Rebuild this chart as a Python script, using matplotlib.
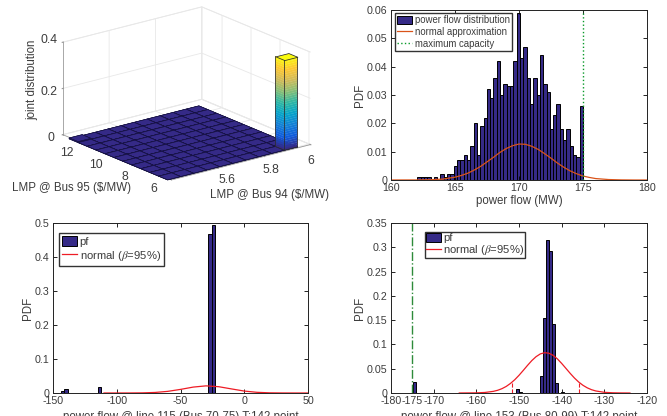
import numpy as np
import matplotlib
matplotlib.use('Agg')
from matplotlib import pyplot as plt
from matplotlib.colors import LinearSegmentedColormap
from matplotlib.lines import Line2D
from matplotlib.patches import Patch
from mpl_toolkits.mplot3d import proj3d
from mpl_toolkits.mplot3d.art3d import Poly3DCollection

plt.rcParams['font.family'] = ['Liberation Sans', 'DejaVu Sans']
plt.rcParams['mathtext.fontset'] = 'stix'
plt.rcParams['axes.unicode_minus'] = False

W, H = 667, 416
BAR_BLUE = '#352A87'
TXT = '#3c3c3c'

# joint distribution panel, rows run along Bus 95, columns along Bus 94
lmp94_edges = [5.39, 5.446, 5.502, 5.558, 5.614, 5.67, 5.726, 5.782, 5.838, 5.894, 5.95]
lmp95_edges = [6.0, 6.618, 7.236, 7.855, 8.473, 9.091, 9.709, 10.327, 10.945, 11.564, 12.182, 12.8]
joint = [
    [0, 0, 0, 0, 0, 0, 0, 0, 0, 0.39],
    [0, 0, 0, 0, 0, 0, 0, 0, 0, 0],
    [0, 0, 0, 0, 0, 0, 0, 0, 0, 0],
    [0, 0, 0, 0, 0, 0, 0, 0, 0, 0],
    [0, 0, 0, 0, 0, 0, 0, 0, 0, 0],
    [0, 0, 0, 0, 0, 0, 0, 0, 0, 0],
    [0, 0, 0, 0, 0, 0, 0, 0, 0, 0],
    [0, 0, 0, 0, 0, 0, 0, 0, 0, 0],
    [0, 0, 0, 0, 0, 0, 0, 0, 0, 0],
    [0, 0, 0, 0, 0, 0, 0, 0, 0, 0],
    [0.004, 0, 0, 0, 0, 0, 0, 0, 0, 0],
]
lmp94_ticks = [5.6, 5.8, 6]
lmp95_ticks = [6, 8, 10, 12]
joint_ticks = [0, 0.2, 0.4]

# power flow histogram, top right
flow_left = 162.05
flow_width = 0.259
flow_pdf = [0.001, 0.001, 0.001, 0.001, 0, 0.001, 0, 0.002, 0.001, 0.002, 0.002, 0.005, 0.007,
            0.007, 0.009, 0.007, 0.012, 0.020, 0.009, 0.019, 0.022, 0.032, 0.029, 0.036, 0.042,
            0.030, 0.034, 0.033, 0.033, 0.042, 0.059, 0.043, 0.047, 0.036, 0.027, 0.036, 0.030,
            0.044, 0.034, 0.031, 0.018, 0.023, 0.027, 0.018, 0.014, 0.018, 0.012, 0.009, 0.008,
            0.026]
flow_x = [160, 162, 163, 164, 165, 165.5, 166, 166.5, 167, 167.5, 168, 168.5, 169, 169.5, 170,
          170.5, 171, 171.5, 172, 172.5, 173, 173.5, 174, 174.5, 175, 175.5, 176, 177, 178, 179, 180]
flow_normal = [0, 0.00002, 0.0001, 0.0003, 0.001, 0.0016, 0.0024, 0.0035, 0.0048, 0.0064, 0.0080,
               0.0097, 0.0111, 0.0121, 0.0127, 0.0126, 0.0119, 0.0108, 0.0093, 0.0077, 0.0060,
               0.0045, 0.0032, 0.0022, 0.0014, 0.0009, 0.0005, 0.00016, 0.00004, 0, 0]
flow_cap = 175

# line 115, bottom left
l115_left = [-143.7, -141.1, -115.0, -112.4, -28.2, -25.6]
l115_width = 2.6
l115_pdf = [0.006, 0.011, 0.019, 0.001, 0.467, 0.493]
l115_x = [-110, -90, -80, -70, -60, -50, -40, -30, -20, -10, 0, 10, 20, 30, 40, 50]
l115_normal = [0, 0.0001, 0.0004, 0.0016, 0.0048, 0.0106, 0.0174, 0.021, 0.0185, 0.012, 0.0057,
               0.002, 0.0005, 0.0001, 0, 0]

# line 153, bottom right
l153_left = [-174.8, -151.4, -150.7, -150.0, -149.3, -145.0, -144.3, -143.6, -142.9, -142.2,
             -141.5, -140.8, -140.1]
l153_width = 0.7
l153_pdf = [0.022, 0.001, 0.008, 0.003, 0.001, 0.034, 0.154, 0.316, 0.293, 0.142, 0.021, 0.001,
            0.002]
l153_x = [-164, -160, -158, -156, -155, -154, -153, -152, -151, -150, -149, -148, -147, -146,
          -145, -144, -143, -142, -141, -140, -139, -138, -137, -136, -135, -134, -133, -132,
          -130, -128, -126, -124]
l153_normal = [0, 0.0003, 0.0011, 0.0034, 0.0056, 0.0089, 0.0135, 0.0197, 0.0273, 0.0364, 0.0465,
               0.0569, 0.0667, 0.0748, 0.0805, 0.083, 0.0819, 0.0775, 0.0702, 0.0609, 0.0507,
               0.0404, 0.0308, 0.0225, 0.0158, 0.0106, 0.0068, 0.0042, 0.0014, 0.0004, 0.0001, 0]
l153_marks = [-151.7, -136]
l153_mark_h = [0.021, 0.022]
l153_cap = -175

parula = LinearSegmentedColormap.from_list('parula', [
    '#352A87', '#0F5CDD', '#1481D6', '#06A4CA', '#2EB7A4', '#87BF77', '#D1BB59', '#FEC832', '#F9FB0E'])


def pixel_axes(fig, left, top, right, bottom):
    return fig.add_axes([left / W, 1 - bottom / H, (right - left) / W, (bottom - top) / H])


def style_axes(ax, xticks, xlabels, yticks, ylabels, xlim, ylim, xlabel, ypad, xpad):
    ax.set_xlim(xlim)
    ax.set_ylim(ylim)
    ax.set_xticks(xticks, xlabels)
    ax.set_yticks(yticks, ylabels)
    ax.tick_params(direction='in', top=True, right=True, length=3, width=0.6, labelsize=7.7,
                   labelcolor=TXT, pad=2.5)
    for s in ax.spines.values():
        s.set_linewidth(0.7)
        s.set_color('#222222')
    ax.set_xlabel(xlabel, fontsize=8.3, color=TXT, labelpad=xpad)
    ax.set_ylabel('PDF', fontsize=8.3, color=TXT, labelpad=ypad)


def pixel_legend(ax, handles, fontsize, left, top, right, bottom, **kw):
    box = (left / W, 1 - bottom / H, (right - left) / W, (bottom - top) / H)
    return ax.legend(handles=handles, loc='center', bbox_to_anchor=box, bbox_transform=ax.figure.transFigure,
                     fontsize=fontsize, fancybox=False, framealpha=1, edgecolor='#333333',
                     borderaxespad=0, labelcolor=TXT, **kw)


def tick_text(ax, x, y, z, label, dx, dy):
    px, py, _ = proj3d.proj_transform(x, y, z, ax.get_proj())
    ax.annotate(label, (px, py), xytext=(dx - 2, dy - 3), textcoords='offset pixels', fontsize=8.8,
                color=TXT, ha='center', va='center', annotation_clip=False)


fig = plt.figure(figsize=(W / 100, H / 100), dpi=100)

# joint distribution
ax3 = fig.add_axes([12 / W, 148 / H, 340 / W, 340 / H], projection='3d', proj_type='ortho')
ax3.patch.set_visible(False)
ax3.computed_zorder = False
ax3.view_init(elev=19, azim=-128)
ax3.set_box_aspect((175, 175, 97), zoom=0.765)

heights = np.array(joint)
xe = np.array(lmp94_edges)
ye = np.array(lmp95_edges)
xx, yy = np.meshgrid(xe[:-1], ye[:-1])
floor_z = np.where(heights > 0.1, 0, heights)
ax3.bar3d(xx.ravel(), yy.ravel(), np.zeros(xx.size), np.diff(xe)[0], np.diff(ye)[0], floor_z.ravel(),
          color=BAR_BLUE, edgecolor='#14103f', linewidth=0.45, shade=False, zorder=1)

# tall bar, gradient faces over the floor
row, col = np.unravel_index(heights.argmax(), heights.shape)
x0, x1 = xe[col], xe[col + 1]
y0, y1 = ye[row], ye[row + 1]
top = heights[row, col]
zs = np.linspace(0, top, 40)
verts = []
cols = []
for za, zb in zip(zs[:-1], zs[1:]):
    c = parula(za / top)
    verts.append([(x0, y0, za), (x0, y1, za), (x0, y1, zb), (x0, y0, zb)])
    cols.append(c)
    verts.append([(x0, y0, za), (x1, y0, za), (x1, y0, zb), (x0, y0, zb)])
    cols.append(c)
ax3.add_collection3d(Poly3DCollection(verts, facecolors=cols, edgecolors=cols, linewidths=0.2, zorder=2))
ax3.add_collection3d(Poly3DCollection([[(x0, y0, top), (x1, y0, top), (x1, y1, top), (x0, y1, top)]],
                                      facecolors='#F9FB0E', edgecolors='#2b2b2b', linewidths=0.55, zorder=3))
edge = dict(color='#2b2b2b', linewidth=0.55, zorder=4)
ax3.plot([x0, x0], [y0, y0], [0, top], **edge)
ax3.plot([x1, x1], [y0, y0], [0, top], **edge)
ax3.plot([x0, x0], [y1, y1], [0, top], **edge)
ax3.plot([x1, x0, x0], [y0, y0, y1], [0, 0, 0], **edge)

ax3.set_xlim(5.4, 6.0, view_margin=0)
ax3.set_ylim(5.9, 13.4, view_margin=0)
ax3.set_zlim(0, 0.4, view_margin=0)
ax3.set_xticks(lmp94_ticks, [''] * len(lmp94_ticks))
ax3.set_yticks(lmp95_ticks, [''] * len(lmp95_ticks))
ax3.set_zticks(joint_ticks, [''] * len(joint_ticks))
ax3.tick_params(color='#999999', width=0.4)
for axis in (ax3.xaxis, ax3.yaxis, ax3.zaxis):
    axis.set_pane_color((1, 1, 1, 1))
    axis.pane.set_edgecolor('#e6e6e6')
    axis.pane.set_linewidth(0.6)
    axis.line.set_color('#9a9a9a')
    axis.line.set_linewidth(0.6)
    axis._axinfo['grid']['color'] = '#e8e8e8'
    axis._axinfo['grid']['linewidth'] = 0.6
    axis._axinfo['tick']['inward_factor'] = 0.05
    axis._axinfo['tick']['outward_factor'] = 0.05
ax3.zaxis.set_ticks_position('upper')

for val, lab, off in zip(lmp94_ticks, ['5.6', '5.8', '6'], [(11, -9), (9, -11), (2, -13)]):
    tick_text(ax3, val, 5.9, 0, lab, off[0], off[1])
for val, lab in zip(lmp95_ticks, ['6', '8', '10', '12']):
    tick_text(ax3, 5.4, val, 0, lab, -14, -7)
for val, lab, off in zip(joint_ticks, ['0', '0.2', '0.4'], [(-10, 0), (-12, -1), (-12, 5)]):
    tick_text(ax3, 5.4, 13.4, val, lab, off[0], off[1])

fig.text(72 / W, 1 - 188 / H, 'LMP @ Bus 95 ($/MW)', fontsize=8.3, color=TXT, ha='center', va='center')
fig.text(270 / W, 1 - 195 / H, 'LMP @ Bus 94 ($/MW)', fontsize=8.3, color=TXT, ha='center', va='center')
fig.text(32 / W, 1 - 80 / H, 'joint distribution', fontsize=8.3, color=TXT, ha='center', va='center',
         rotation=90)

# power flow
ax1 = pixel_axes(fig, 391, 10, 647, 180)
centers = flow_left + flow_width * (np.arange(len(flow_pdf)) + 0.5)
ax1.bar(centers, flow_pdf, width=flow_width, color=BAR_BLUE, edgecolor='black', linewidth=0.7)
ax1.plot(flow_x, flow_normal, color='#D95319', linewidth=0.9)
ax1.axvline(flow_cap, color='#0a9a2a', linestyle=':', linewidth=1.0)
style_axes(ax1, [160, 165, 170, 175, 180], ['160', '165', '170', '175', '180'],
           [0, 0.01, 0.02, 0.03, 0.04, 0.05, 0.06], ['0', '0.01', '0.02', '0.03', '0.04', '0.05', '0.06'],
           (160, 180), (0, 0.06), 'power flow (MW)', 0.5, 1)
pixel_legend(ax1, [Patch(facecolor=BAR_BLUE, edgecolor='black', linewidth=0.7, label='power flow distribution'),
                   Line2D([], [], color='#D95319', linewidth=0.9, label='normal approximation'),
                   Line2D([], [], color='#0a9a2a', linestyle=':', linewidth=1.0, label='maximum capacity')],
             6.9, 395, 15, 512, 49, handlelength=1.6, handleheight=0.9, handletextpad=0.3, labelspacing=0.22,
             borderpad=0.2)

# line 115
ax2 = pixel_axes(fig, 53, 223, 308, 393)
ax2.bar(l115_left, l115_pdf, width=l115_width, align='edge', color=BAR_BLUE, edgecolor='black', linewidth=0.7)
ax2.plot(l115_x, l115_normal, color='#ee1c25', linewidth=0.9)
style_axes(ax2, [-150, -100, -50, 0, 50], ['-150', '-100', '-50', '0', '50'],
           [0, 0.1, 0.2, 0.3, 0.4, 0.5], ['0', '0.1', '0.2', '0.3', '0.4', '0.5'],
           (-150, 50), (0, 0.5), 'power flow @ line 115 (Bus 70-75) T:142 point', 0.5, 3)
pixel_legend(ax2, [Patch(facecolor=BAR_BLUE, edgecolor='black', linewidth=0.7, label='pf'),
                   Line2D([], [], color='#ee1c25', linewidth=0.9, label=r'normal ($\beta$=95%)')],
             8.1, 59, 234, 164, 265, handlelength=1.35, handleheight=0.95, handletextpad=0.2, labelspacing=0.15,
             borderpad=0.25)

# line 153
ax4 = pixel_axes(fig, 391, 223, 647, 393)
ax4.bar(l153_left, l153_pdf, width=l153_width, align='edge', color=BAR_BLUE, edgecolor='black', linewidth=0.7)
ax4.plot(l153_x, l153_normal, color='#ee1c25', linewidth=0.9)
ax4.vlines(l153_marks, 0, l153_mark_h, color='#ee1c25', linestyle='--', linewidth=0.8)
ax4.axvline(l153_cap, color='#2e8b3a', linestyle='-.', linewidth=1.0)
style_axes(ax4, [-180, -175, -170, -160, -150, -140, -130, -120],
           ['-180', '-175', '-170', '-160', '-150', '-140', '-130', '-120'],
           [0, 0.05, 0.1, 0.15, 0.2, 0.25, 0.3, 0.35], ['0', '0.05', '0.1', '0.15', '0.2', '0.25', '0.3', '0.35'],
           (-180, -120), (0, 0.35), 'power flow @ line 153 (Bus 80-99) T:142 point', 0.5, 3)
pixel_legend(ax4, [Patch(facecolor=BAR_BLUE, edgecolor='black', linewidth=0.7, label='pf'),
                   Line2D([], [], color='#ee1c25', linewidth=0.9, label=r'normal ($\beta$=95%)')],
             8.1, 423, 233, 527, 257, handlelength=1.35, handleheight=0.8, handletextpad=0.2, labelspacing=0.0,
             borderpad=0.08)

fig.savefig('out.png', dpi=100)
